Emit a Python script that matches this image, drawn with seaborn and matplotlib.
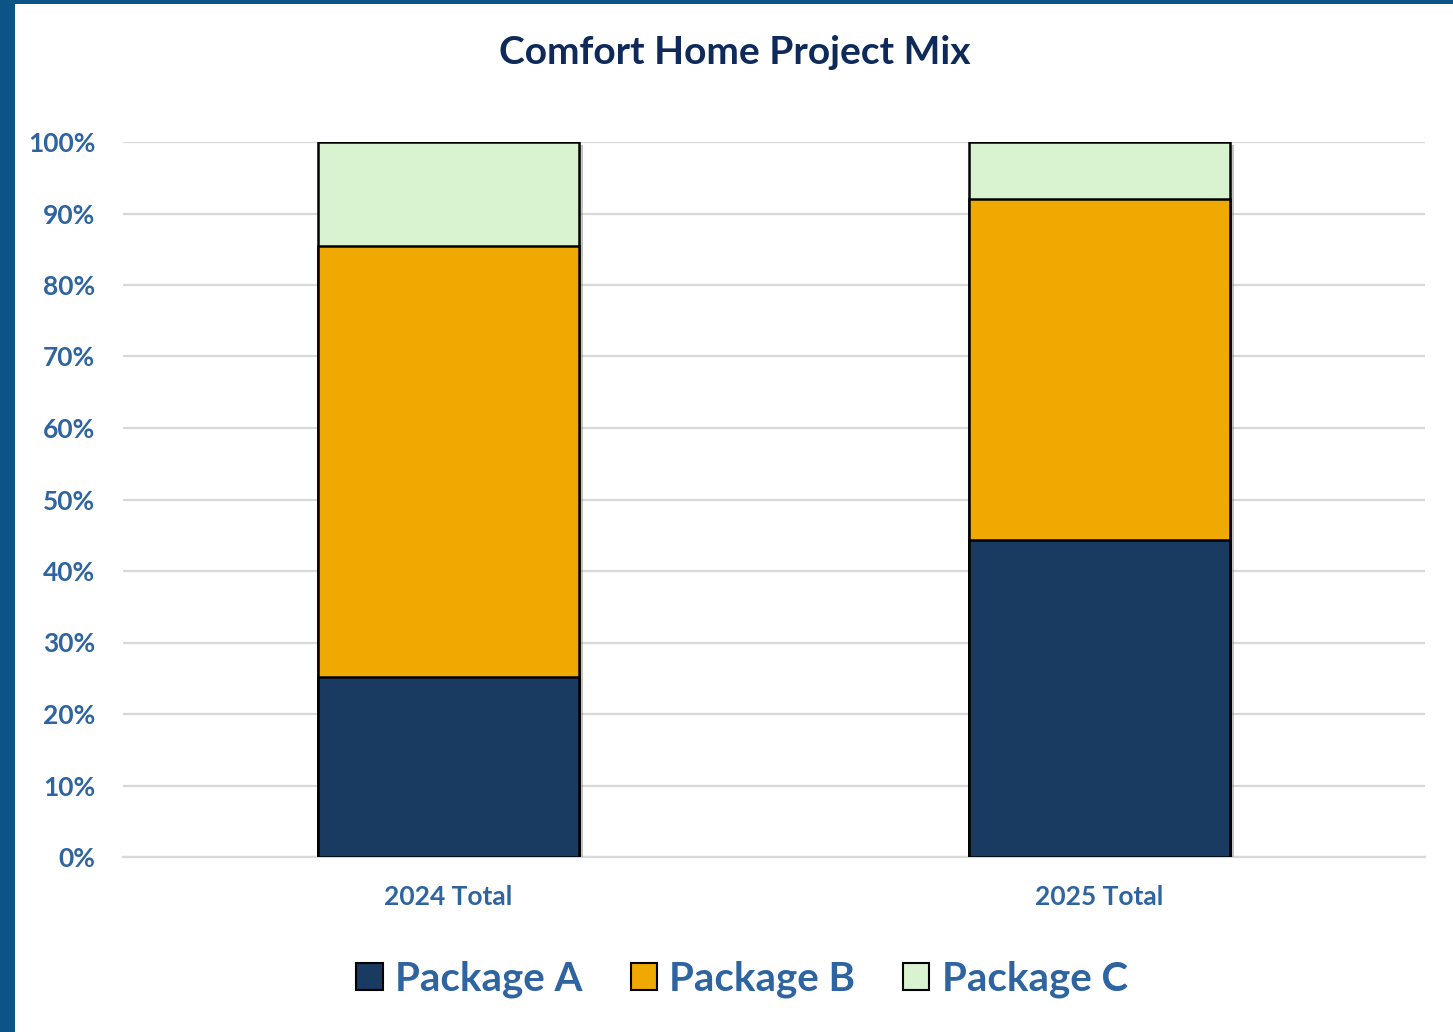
import pandas as pd
import seaborn as sns
import matplotlib.pyplot as plt
import matplotlib.patches as mpatches
import matplotlib.patheffects as pe
import numpy as np

# data (share of projects per year)
years = ["2024 Total", "2025 Total"]
packages = ["Package A", "Package B", "Package C"]
package_a = [0.252, 0.443]
package_b = [0.603, 0.477]
package_c = [0.145, 0.080]
colors = ["#193B62", "#F0A900", "#D9F2D0"]
yticks = np.arange(0, 1.01, 0.1)

sns.set_theme(style="white")
plt.rcParams["font.family"] = ["Lato", "DejaVu Sans"]

fig = plt.figure(figsize=(14.53, 10.32), dpi=100)
ax = fig.add_axes([123 / 1453, 1 - 857 / 1032, (1425 - 123) / 1453, (857 - 142) / 1032])

df = pd.DataFrame({"year": years, "A": package_a, "B": package_b, "C": package_c})
df["AB"] = df["A"] + df["B"]
df["ABC"] = df["AB"] + df["C"]

# stacked look: draw cumulative totals, tallest first
layers = [("ABC", colors[2]), ("AB", colors[1]), ("A", colors[0])]
for col, c in layers:
    sns.barplot(data=df, x="year", y=col, color=c, saturation=1, width=0.4,
                edgecolor="black", linewidth=1.8, ax=ax, zorder=3)

# shadow on the outer bars only
for p in ax.patches[:2]:
    p.set_path_effects([pe.SimplePatchShadow(offset=(3, -2), shadow_rgbFace="#888888", alpha=0.5), pe.Normal()])

ax.set_xlim(-0.5, 1.5)
ax.set_ylim(0, 1.0)
ax.set_yticks(yticks)
ax.set_yticklabels([f"{int(round(t * 100))}%" for t in yticks])
ax.yaxis.grid(True, color="#D9D9D9", linewidth=1.6, zorder=0)
ax.set_axisbelow(True)
for s in ["top", "right", "left"]:
    ax.spines[s].set_visible(False)
ax.spines["bottom"].set_color("#D9D9D9")
ax.spines["bottom"].set_linewidth(1.6)
ax.set_xlabel("")
ax.set_ylabel("")
ax.tick_params(axis="y", length=0, pad=20, labelsize=19, labelcolor="#2E64A0")
ax.tick_params(axis="x", length=0, pad=20, labelsize=19, labelcolor="#2E64A0")
for lbl in ax.get_xticklabels() + ax.get_yticklabels():
    lbl.set_fontweight("bold")

fig.text(735 / 1453, 1 - 53 / 1032, "Comfort Home Project Mix", ha="center", va="center",
         fontsize=28, fontweight="bold", color="#0E2A5A")

handles = [mpatches.Patch(facecolor=c, edgecolor="black", linewidth=1.5, label=l)
           for c, l in zip(colors, packages)]
leg = fig.legend(handles=handles, loc="center", bbox_to_anchor=(742 / 1453, 1 - 979 / 1032), ncol=3,
                 frameon=False, fontsize=29, handlelength=0.65, handleheight=0.65,
                 handletextpad=0.3, columnspacing=1.2)
for t in leg.get_texts():
    t.set_color("#2E64A0")
    t.set_fontweight("bold")

# frame: thick blue strip on the left, thin line at top
fig.patches.append(mpatches.Rectangle((0, 0), 15 / 1453, 1, transform=fig.transFigure,
                                      facecolor="#0B5486", edgecolor="none"))
fig.patches.append(mpatches.Rectangle((0, 1 - 4 / 1032), 1, 4 / 1032, transform=fig.transFigure,
                                      facecolor="#0B5486", edgecolor="none"))

fig.savefig("out.png", dpi=100, facecolor="white")
